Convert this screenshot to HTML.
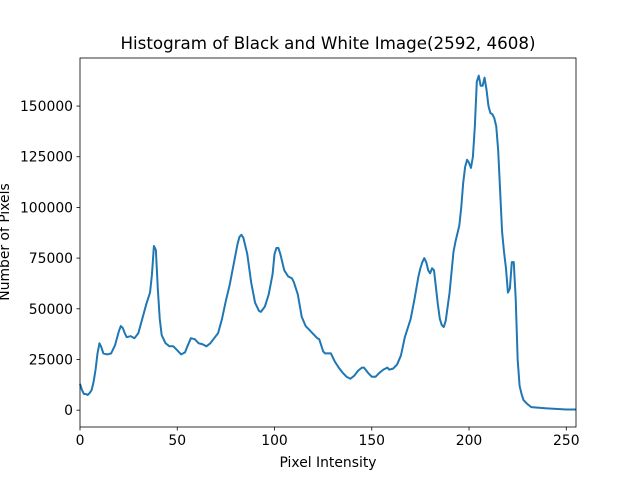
<!DOCTYPE html>
<html><head><meta charset="utf-8"><style>
html,body{margin:0;padding:0;background:#fff;}
svg text{font-family:"DejaVu Sans","Liberation Sans",sans-serif;fill:#000;}
</style></head><body>
<svg id="chart" width="640" height="480" viewBox="0 0 640 480">
<rect x="0" y="0" width="640" height="480" fill="#fff"/>
<text x="328" y="49" font-size="16.7" text-anchor="middle">Histogram of Black and White Image(2592, 4608)</text>
<g id="xticks"></g>
<g id="yticks"></g>
<path id="line" fill="none" stroke="#1f77b4" stroke-width="2" stroke-linejoin="round"/>
<rect x="80" y="58" width="496" height="369" fill="none" stroke="#000" stroke-width="0.8"/>
<text x="328" y="467" font-size="13.9" text-anchor="middle">Pixel Intensity</text>
<text x="0" y="0" font-size="13.9" text-anchor="middle" transform="translate(9,242) rotate(-90)">Number of Pixels</text>
</svg>
<script>
const intensities = [0,1,2,3,4,5,6,7,8,9,10,11,12,14,16,18,20,21,22,23,24,26,28,30,32,34,36,37,38,39,40,41,42,44,46,48,50,52,54,55,57,59,61,63,65,67,69,71,73,75,77,79,81,82,83,84,86,88,90,92,93,95,97,99,100,101,102,103,105,107,109,110,112,114,116,118,120,122,123,125,126,129,131,133,135,137,139,141,143,145,146,148,150,152,154,156,158,159,161,163,165,167,169,170,172,174,175,176,177,178,179,180,181,182,184,185,186,187,188,190,192,193,195,196,197,198,199,200,201,202,203,204,205,206,207,208,209,210,211,212,213,214,215,216,217,218,219,220,221,222,223,224,225,226,227,228,230,232,240,250,255];
const counts = [13000,10000,8000,8000,7500,8500,10000,14000,20000,28000,33000,31000,28000,27500,28000,32000,39000,41500,40500,38000,36000,36500,35500,38000,45000,52000,58000,67000,81000,79000,60000,45000,37000,33000,31500,31500,29500,27500,28500,31000,35500,35000,33000,32500,31500,33000,35500,38000,45000,54000,62000,72000,82000,85500,86500,85000,77000,63000,53000,49000,48500,51000,57000,67000,77000,80000,80000,77000,69000,66000,65000,63000,57000,46000,41500,39500,37500,35500,35000,29000,28000,28000,24000,21000,18500,16500,15500,17000,19500,21000,21000,18500,16500,16500,18500,20000,21000,20000,20500,22500,27000,36000,42000,45000,55000,66000,70000,73000,75000,73000,69000,67500,70000,69000,52000,45000,42000,41000,44000,58000,78000,83000,91000,100000,112000,120000,123500,122000,119500,125000,140000,162000,165000,160000,160000,164000,158000,150000,146500,146000,144000,140000,128000,108000,88000,78000,70000,58000,60000,73000,73000,55000,25000,12000,8000,5000,3000,1500,900,300,300];
const xTickValues = [0,50,100,150,200,250];
const yTickValues = [0,25000,50000,75000,100000,125000,150000];

const X0=80,X1=576,Y0=427,Y1=58;
const xMin=0,xMax=255,yMin=-8300,yMax=173700;
function sx(v){return X0+(v-xMin)/(xMax-xMin)*(X1-X0);}
function sy(v){return Y0-(v-yMin)/(yMax-yMin)*(Y0-Y1);}
const NS="http://www.w3.org/2000/svg";

let d="";
for(let i=0;i<intensities.length;i++){d+=(i?"L":"M")+sx(intensities[i]).toFixed(2)+","+sy(counts[i]).toFixed(2);}
document.getElementById("line").setAttribute("d",d);

const xg=document.getElementById("xticks");
xTickValues.forEach(v=>{
  const x=sx(v);
  const t=document.createElementNS(NS,"line");
  t.setAttribute("x1",x);t.setAttribute("x2",x);t.setAttribute("y1",Y0);t.setAttribute("y2",Y0+3.5);
  t.setAttribute("stroke","#000");t.setAttribute("stroke-width","0.8");
  
  
  xg.appendChild(t);
  const l=document.createElementNS(NS,"text");
  l.setAttribute("x",x);l.setAttribute("y",Y0+18);l.setAttribute("font-size","13.9");l.setAttribute("text-anchor","middle");
  l.textContent=v;
  
  
  xg.appendChild(l);
});
const yg=document.getElementById("yticks");
yTickValues.forEach(v=>{
  const y=sy(v);
  const t=document.createElementNS(NS,"line");
  t.setAttribute("x1",X0-3.5);t.setAttribute("x2",X0);t.setAttribute("y1",y);t.setAttribute("y2",y);
  t.setAttribute("stroke","#000");t.setAttribute("stroke-width","0.8");
  
  
  yg.appendChild(t);
  const l=document.createElementNS(NS,"text");
  l.setAttribute("x",X0-7);l.setAttribute("y",y+5);l.setAttribute("font-size","13.9");l.setAttribute("text-anchor","end");
  l.textContent=v;
  
  
  yg.appendChild(l);
});
</script>
</body></html>
